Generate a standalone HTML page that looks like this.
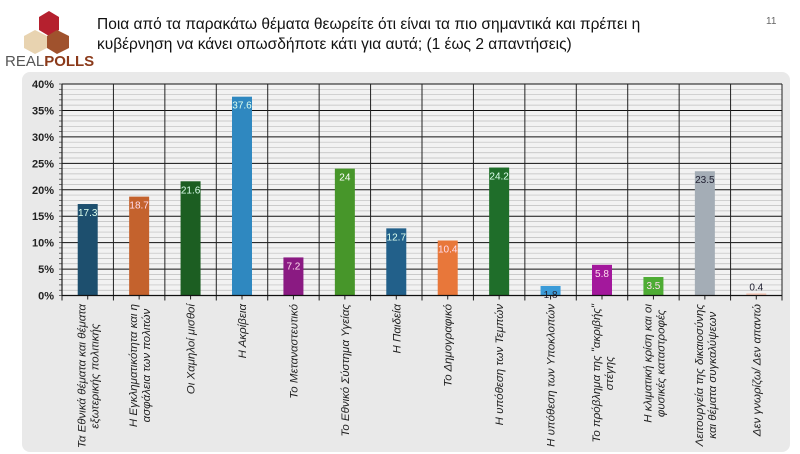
<!DOCTYPE html>
<html><head><meta charset="utf-8">
<style>
body{margin:0;width:800px;height:454px;background:#fff;overflow:hidden;font-family:"Liberation Sans","DejaVu Sans",sans-serif;}
#title{position:absolute;left:97px;top:15px;font-size:15.5px;line-height:20px;color:#111;}
#pg{position:absolute;left:766px;top:16px;font-size:10px;color:#666;}
#logo{position:absolute;left:5px;top:8px;}
</style></head><body>
<svg id="logo" width="92" height="62" viewBox="0 0 92 62">
<polygon points="44,3 54,9 54,22 44,28 34,22 34,9" fill="#b5202e"/>
<polygon points="30,22 42,28 42,40 30,46 19,40 19,28" fill="#e8d3b0"/>
<polygon points="52,22 64,28 64,40 52,46 42,40 42,28" fill="#a0522d"/>
<text x="0" y="58" font-size="15" fill="#555" font-family="Liberation Sans">REAL<tspan font-weight="bold" fill="#8b3a1a">POLLS</tspan></text>
</svg>
<div id="title">Ποια από τα παρακάτω θέματα θεωρείτε ότι είναι τα πιο σημαντικά και πρέπει η<br>κυβέρνηση να κάνει οπωσδήποτε κάτι για αυτά; (1 έως 2 απαντήσεις)</div>
<div id="pg">11</div>
<svg id="chart" width="800" height="454" style="position:absolute;left:0;top:0"></svg>
<script>
const categories=[["Τα Εθνικά θέματα και θέματα","εξωτερικής πολιτικής"],["Η Εγκληματικότητα και η","ασφάλεια των πολιτών"],["Οι Χαμηλοί μισθοί"],["Η Ακρίβεια"],["Το Μεταναστευτικό"],["Το Εθνικό Σύστημα Υγείας"],["Η Παιδεία"],["Το Δημογραφικό"],["Η υπόθεση των Τεμπών"],["Η υπόθεση των Υποκλοπών"],["Το πρόβλημα της \"ακριβής\"","στέγης"],["Η κλιματική κρίση και οι","φυσικές καταστροφές"],["Λειτουργεία της δικαιοσύνης","και θέματα συγκαλύψεων"],["Δεν γνωρίζω/  Δεν απαντώ"]];
const values=[17.3,18.7,21.6,37.6,7.2,24,12.7,10.4,24.2,1.8,5.8,3.5,23.5,0.4];
const valueLabels=["17.3","18.7","21.6","37.6","7.2","24","12.7","10.4","24.2","1.8","5.8","3.5","23.5","0.4"];
const colors=["#1d4f6e","#c4622d","#1c5e22","#2f88c0","#8a1a82","#47962a","#22608a","#e8773a","#1f6e2a","#3b9bd8","#a3189c","#4eac34","#a4adb6","#f2c6b6"];
const labelColors=["#dfe","#fde","#dfe","#dfe","#fde","#fff","#dfe","#fde","#dfe","#223","#fde","#fde","#223","#223"];
const yTicks=[0,5,10,15,20,25,30,35,40];
const svg=document.getElementById('chart');const NS="http://www.w3.org/2000/svg";
function mk(t,a,p){const e=document.createElementNS(NS,t);for(const k in a)e.setAttribute(k,a[k]);(p||svg).appendChild(e);return e;}
const X0=62,X1=782,Y0=295.5,Y1=84,yMax=40;
const n=categories.length,cw=(X1-X0)/n;
const y=v=>Y0-(v/yMax)*(Y0-Y1);
const xc=i=>X0+cw*(i+0.5);
const panel=mk('rect',{x:22,y:72,width:768,height:380,rx:8,fill:"#e9e9e9"});


mk('rect',{x:X0,y:Y1,width:X1-X0,height:Y0-Y1,fill:"#f2f2f2"});
for(let v=0;v<=yMax;v++){
  mk('line',{x1:X0,x2:X1,y1:y(v),y2:y(v),stroke:v%5?"#bdbdbd":"#111","stroke-width":v%5?0.7:1});
  mk('line',{x1:X0-3,x2:X0,y1:y(v),y2:y(v),stroke:"#333","stroke-width":0.7});
}
yTicks.forEach(v=>{const t=mk('text',{x:X0-8,y:y(v)+4,"text-anchor":"end","font-size":11,"font-weight":"bold",fill:"#222"});t.textContent=v+"%";

});
for(let i=0;i<=n;i++){const x=X0+cw*i;mk('line',{x1:x,x2:x,y1:Y1,y2:Y0+5,stroke:"#222","stroke-width":1});}
mk('line',{x1:X0,x2:X0,y1:Y1,y2:Y0,stroke:"#222","stroke-width":1.2});
values.forEach((v,i)=>{
  const bw=20;
  const b=mk('rect',{x:xc(i)-bw/2,y:y(v),width:bw,height:Y0-y(v),fill:colors[i]});
  
  
  const t=mk('text',{x:xc(i),y:y(v)+(v<1?-3:12),"text-anchor":"middle","font-size":10,fill:labelColors[i]});
  t.textContent=valueLabels[i];
  
  
  mk('line',{x1:xc(i),x2:xc(i),y1:Y0,y2:Y0+4,stroke:"#222"});
  const lines=categories[i];
  const g=mk('text',{"text-anchor":"middle","font-size":11.5,"font-style":"italic",fill:"#222"});
  
  
  const spans=lines.map((s,k)=>{const off=lines.length===1?4:(k===0?-2:11);const ts=mk('tspan',{x:0,y:off},g);ts.textContent=s;return ts;});
  let maxL=0;spans.forEach(s=>{maxL=Math.max(maxL,s.getComputedTextLength());});
  g.setAttribute('transform',`translate(${xc(i)},${304+maxL/2}) rotate(-90)`);
});
mk('line',{x1:X0,x2:X1,y1:Y0,y2:Y0,stroke:"#111","stroke-width":1.2});
</script>
</body></html>
